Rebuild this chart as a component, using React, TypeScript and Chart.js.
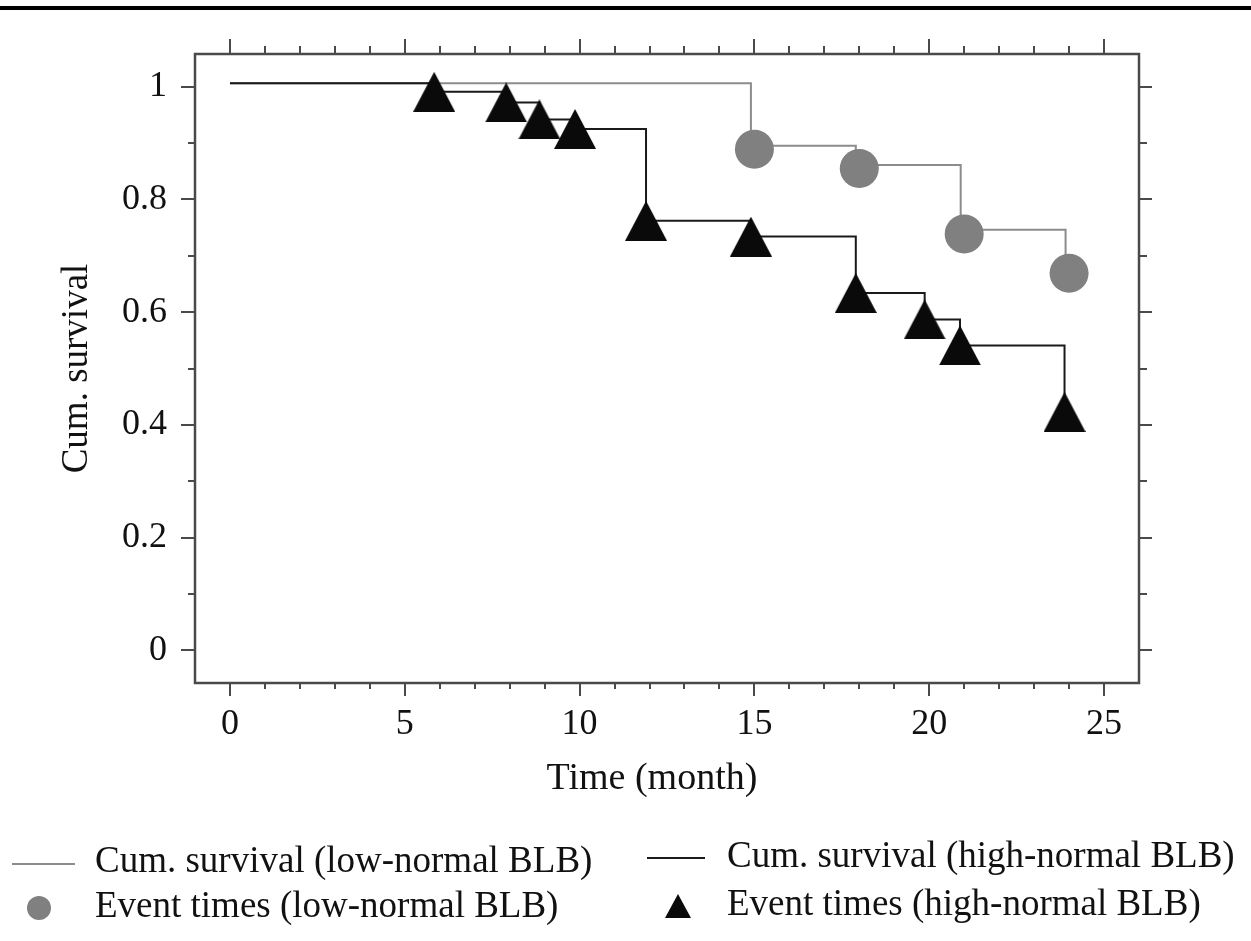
import React, { useEffect, useRef } from "react";
import { Chart, registerables } from "chart.js";

Chart.register(...registerables);

// ---- data ----
// high-normal BLB: step line (time, cumulative survival)
const highStepTimes = [0, 5.84, 7.9, 8.85, 9.87, 11.9, 14.9, 17.9, 19.87, 20.88, 23.87];
const highStepSurv = [1.006, 0.991, 0.972, 0.942, 0.925, 0.762, 0.734, 0.634, 0.587, 0.541, 0.423];
// high-normal BLB: event markers
const highEventTimes = [5.84, 7.9, 8.85, 9.87, 11.9, 14.9, 17.9, 19.87, 20.88, 23.87];
const highEventSurv = [0.991, 0.972, 0.942, 0.925, 0.762, 0.734, 0.634, 0.587, 0.541, 0.423];
// low-normal BLB: step line
const lowStepTimes = [0, 14.9, 17.9, 20.9, 23.9];
const lowStepSurv = [1.006, 0.895, 0.861, 0.746, 0.672];
// low-normal BLB: event markers
const lowEventTimes = [15, 18, 21, 24];
const lowEventSurv = [0.889, 0.855, 0.7385, 0.669];

// axes
const xTickValues = [0, 5, 10, 15, 20, 25];
const xTickLabels = ["0", "5", "10", "15", "20", "25"];
const yTickValues = [0, 0.2, 0.4, 0.6, 0.8, 1];
const yTickLabels = ["0", "0.2", "0.4", "0.6", "0.8", "1"];
const xMinorValues = Array.from({ length: 26 }, (_, i) => i);
const yMinorValues = [0, 0.1, 0.2, 0.3, 0.4, 0.5, 0.6, 0.7, 0.8, 0.9, 1];

const xTitle = "Time (month)";
const yTitle = "Cum. survival";
const legendLowLine = "Cum. survival (low-normal BLB)";
const legendLowEvent = "Event times (low-normal BLB)";
const legendHighLine = "Cum. survival (high-normal BLB)";
const legendHighEvent = "Event times (high-normal BLB)";

const FONT = "'Liberation Serif', 'DejaVu Serif', serif";
const TEXT = "#111111";
const AXIS = "#4a4a4a";
const GRAY_LINE = "#8c8c8c";
const GRAY_DOT = "#808080";
const BLACK = "#0a0a0a";

function makeTriangle(w: number, h: number, color: string) {
  const c = document.createElement("canvas");
  c.width = w;
  c.height = h;
  const g = c.getContext("2d")!;
  g.fillStyle = color;
  g.beginPath();
  g.moveTo(w / 2, 0);
  g.lineTo(w, h);
  g.lineTo(0, h);
  g.closePath();
  g.fill();
  return c;
}

export default function App() {
  const ref = useRef<HTMLCanvasElement | null>(null);

  useEffect(() => {
    document.body.style.margin = "0";
    const canvas = ref.current!;
    const tri = makeTriangle(42, 40, BLACK);

    const decorPlugin = {
      id: "decor",
      afterDraw(chart: any) {
        const ctx = chart.ctx as CanvasRenderingContext2D;
        const a = chart.chartArea;
        const xs = chart.scales.x;
        const ys = chart.scales.y;
        ctx.save();
        // top rule of the page
        ctx.fillStyle = "#000";
        ctx.fillRect(0, 6, chart.width, 4);

        // frame
        ctx.strokeStyle = AXIS;
        ctx.lineWidth = 2.5;
        ctx.strokeRect(a.left, a.top, a.right - a.left, a.bottom - a.top);

        // ticks
        ctx.lineWidth = 2;
        ctx.beginPath();
        xMinorValues.forEach((v) => {
          const px = Math.round(xs.getPixelForValue(v));
          const major = v % 5 === 0;
          const lb = major ? 13 : 6;
          const lt = major ? 15 : 8;
          ctx.moveTo(px, a.bottom);
          ctx.lineTo(px, a.bottom + lb);
          ctx.moveTo(px, a.top);
          ctx.lineTo(px, a.top - lt);
        });
        yMinorValues.forEach((v, i) => {
          const py = Math.round(ys.getPixelForValue(v));
          const major = i % 2 === 0;
          const ll = major ? 14 : 7;
          const lr = major ? 13 : 8;
          ctx.moveTo(a.left, py);
          ctx.lineTo(a.left - ll, py);
          ctx.moveTo(a.right, py);
          ctx.lineTo(a.right + lr, py);
        });
        ctx.stroke();

        // x-axis title
        ctx.fillStyle = TEXT;
        ctx.font = `38px ${FONT}`;
        ctx.textAlign = "center";
        ctx.textBaseline = "middle";
        ctx.fillText(xTitle, 652, 779);

        // legend
        ctx.font = `37px ${FONT}`;
        ctx.textAlign = "left";
        ctx.lineWidth = 2;
        ctx.strokeStyle = GRAY_LINE;
        ctx.beginPath();
        ctx.moveTo(12, 864);
        ctx.lineTo(75, 864);
        ctx.stroke();
        ctx.fillStyle = GRAY_DOT;
        ctx.beginPath();
        ctx.arc(39, 908, 12, 0, Math.PI * 2);
        ctx.fill();
        ctx.fillStyle = TEXT;
        ctx.fillText(legendLowLine, 95, 862);
        ctx.fillText(legendLowEvent, 95, 907);

        ctx.strokeStyle = "#1a1a1a";
        ctx.beginPath();
        ctx.moveTo(647, 858);
        ctx.lineTo(705, 858);
        ctx.stroke();
        ctx.fillStyle = BLACK;
        ctx.beginPath();
        ctx.moveTo(678, 894);
        ctx.lineTo(691, 918);
        ctx.lineTo(665, 918);
        ctx.closePath();
        ctx.fill();
        ctx.fillStyle = TEXT;
        ctx.fillText(legendHighLine, 727, 857);
        ctx.fillText(legendHighEvent, 727, 905);
        ctx.restore();
      },
    };

    const toPts = (xs: number[], ys: number[]) => xs.map((x, i) => ({ x, y: ys[i] }));

    const chart = new Chart(canvas, {
      type: "scatter",
      data: {
        datasets: [
          {
            label: legendLowEvent,
            data: toPts(lowEventTimes, lowEventSurv),
            showLine: false,
            pointStyle: "circle",
            pointRadius: 19.5,
            pointBackgroundColor: GRAY_DOT,
            pointBorderWidth: 0,
            order: 0,
          },
          {
            label: legendHighEvent,
            data: toPts(highEventTimes, highEventSurv),
            showLine: false,
            pointStyle: tri as any,
            pointRadius: 20,
            order: 0,
          },
          {
            label: legendLowLine,
            data: toPts(lowStepTimes, lowStepSurv),
            showLine: true,
            stepped: "before",
            borderColor: GRAY_LINE,
            borderWidth: 2,
            pointRadius: 0,
            fill: false,
            order: 2,
          },
          {
            label: legendHighLine,
            data: toPts(highStepTimes, highStepSurv),
            showLine: true,
            stepped: "before",
            borderColor: "#1a1a1a",
            borderWidth: 2,
            pointRadius: 0,
            fill: false,
            order: 1,
          },
        ],
      },
      options: {
        responsive: false,
        animation: false,
        events: [],
        layout: { padding: { left: 0, right: 112, top: 54, bottom: 0 } },
        plugins: {
          legend: { display: false },
          tooltip: { enabled: false },
          title: { display: false },
        },
        scales: {
          x: {
            type: "linear",
            position: "bottom",
            min: -1,
            max: 26,
            grid: { display: false, drawTicks: false },
            border: { display: false },
            afterBuildTicks: (s: any) => {
              s.ticks = xTickValues.map((v) => ({ value: v }));
            },
            afterFit: (s: any) => {
              s.height = 941 - 683;
            },
            ticks: {
              autoSkip: false,
              maxRotation: 0,
              padding: 20,
              color: TEXT,
              font: { family: FONT, size: 36 },
              callback: (_v: any, i: number) => xTickLabels[i],
            },
          },
          y: {
            type: "linear",
            position: "left",
            min: -0.058,
            max: 1.058,
            grid: { display: false, drawTicks: false },
            border: { display: false },
            afterBuildTicks: (s: any) => {
              s.ticks = yTickValues.map((v) => ({ value: v }));
            },
            afterFit: (s: any) => {
              s.width = 195;
            },
            ticks: {
              autoSkip: false,
              padding: 28,
              color: TEXT,
              font: { family: FONT, size: 36 },
              callback: (_v: any, i: number) => yTickLabels[i],
            },
            title: {
              display: true,
              text: yTitle,
              color: TEXT,
              font: { family: FONT, size: 37 },
              padding: { top: 55, bottom: 0 },
            },
          },
        },
      },
      plugins: [decorPlugin],
    });

    return () => chart.destroy();
  }, []);

  return (
    <canvas
      ref={ref}
      width={1251}
      height={941}
      style={{ display: "block", width: 1251, height: 941 }}
    />
  );
}
